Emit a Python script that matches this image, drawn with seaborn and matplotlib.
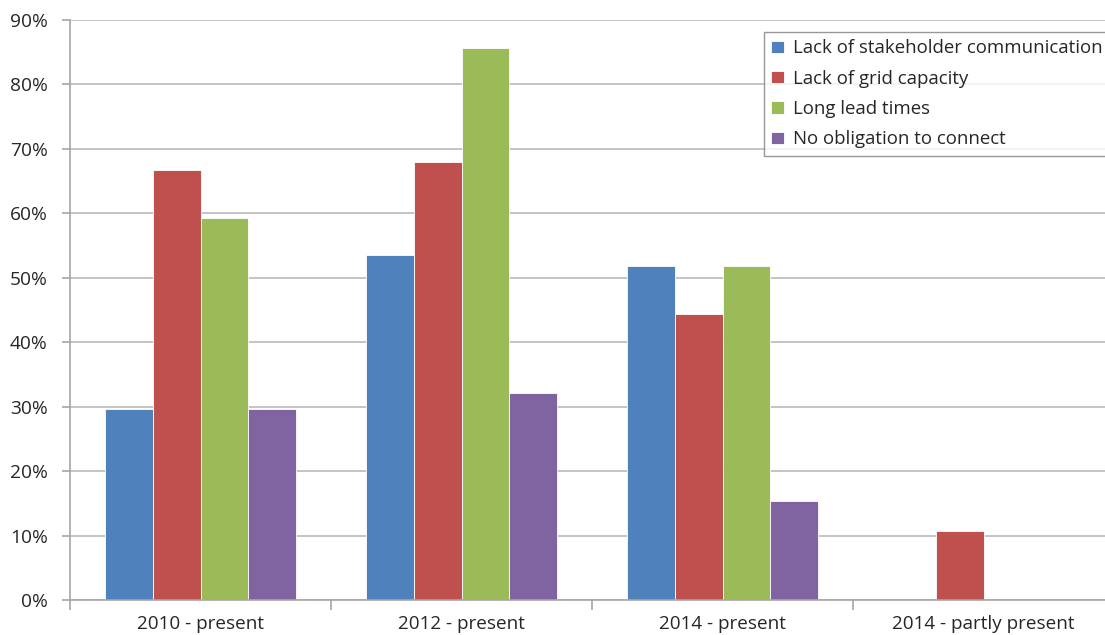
import numpy as np
import pandas as pd
import matplotlib
matplotlib.use("Agg")
import matplotlib.pyplot as plt
import seaborn as sns
from matplotlib.ticker import FuncFormatter, FixedLocator

periods = ["2010 - present", "2012 - present", "2014 - present", "2014 - partly present"]
barriers = [
    "Lack of stakeholder communication",
    "Lack of grid capacity",
    "Long lead times",
    "No obligation to connect",
]
stakeholder_comm = [29.6, 53.6, 51.9, np.nan]
grid_capacity = [66.7, 67.9, 44.4, 10.7]
lead_times = [59.3, 85.7, 51.9, np.nan]
no_obligation = [29.6, 32.1, 15.4, np.nan]
colors = ["#4f81bd", "#c0504d", "#9bbb59", "#8064a2"]

series = [stakeholder_comm, grid_capacity, lead_times, no_obligation]
rows = []
for name, vals in zip(barriers, series):
    for p, v in zip(periods, vals):
        rows.append({"period": p, "barrier": name, "share": v})
df = pd.DataFrame(rows)

sns.set_theme(style="white")
plt.rcParams["font.family"] = ["Open Sans", "DejaVu Sans"]

fig = plt.figure(figsize=(11.05, 6.35), dpi=100)
W, H = 1105, 635
x0, x1, y0, y1 = 70, 1114, 600, 20
ax = fig.add_axes([x0 / W, 1 - y0 / H, (x1 - x0) / W, (y0 - y1) / H])

sns.barplot(data=df, x="period", y="share", hue="barrier", order=periods,
            hue_order=barriers, palette=colors, width=0.73, saturation=1,
            edgecolor="white", linewidth=0.6, ax=ax, legend=True)

ax.set_ylim(0, 90)
ax.set_xlim(-0.5, 3.5)
ax.yaxis.set_major_locator(FixedLocator(np.arange(0, 91, 10)))
ax.yaxis.set_major_formatter(FuncFormatter(lambda v, _: f"{int(v)}%"))
ax.yaxis.grid(True, color="#bfbfbf", linewidth=1.3)
ax.set_axisbelow(True)
ax.set_xlabel("")
ax.set_ylabel("")

for s in ["top", "right"]:
    ax.spines[s].set_visible(False)
for s in ["left", "bottom"]:
    ax.spines[s].set_color("#a6a6a6")
    ax.spines[s].set_linewidth(1.2)

ax.tick_params(axis="y", which="major", left=True, length=6, width=1.2,
               color="#a6a6a6", labelsize=13.8, labelcolor="#262626", pad=10)
ax.tick_params(axis="x", which="major", bottom=False, labelsize=13.6,
               labelcolor="#262626", pad=5)
ax.set_xticks(range(len(periods)))
ax.set_xticklabels(periods)
ax.set_xticks(np.arange(-0.5, len(periods), 1.0), minor=True)
ax.tick_params(axis="x", which="minor", bottom=True, length=7, width=1.2,
               color="#a6a6a6")

handles, labels = ax.get_legend_handles_labels()
leg = ax.legend(handles, labels, loc="upper left",
                bbox_to_anchor=(764 / W, 1 - 32 / H), bbox_transform=fig.transFigure,
                frameon=True, fancybox=False, fontsize=13.4, handlelength=0.65,
                handleheight=0.65, handletextpad=0.5, labelspacing=0.66,
                borderpad=0.4, borderaxespad=0, title=None)
leg.get_frame().set_edgecolor("#7f7f7f")
leg.get_frame().set_linewidth(1.0)
for t in leg.get_texts():
    t.set_color("#262626")

fig.savefig("out.png", dpi=100)
